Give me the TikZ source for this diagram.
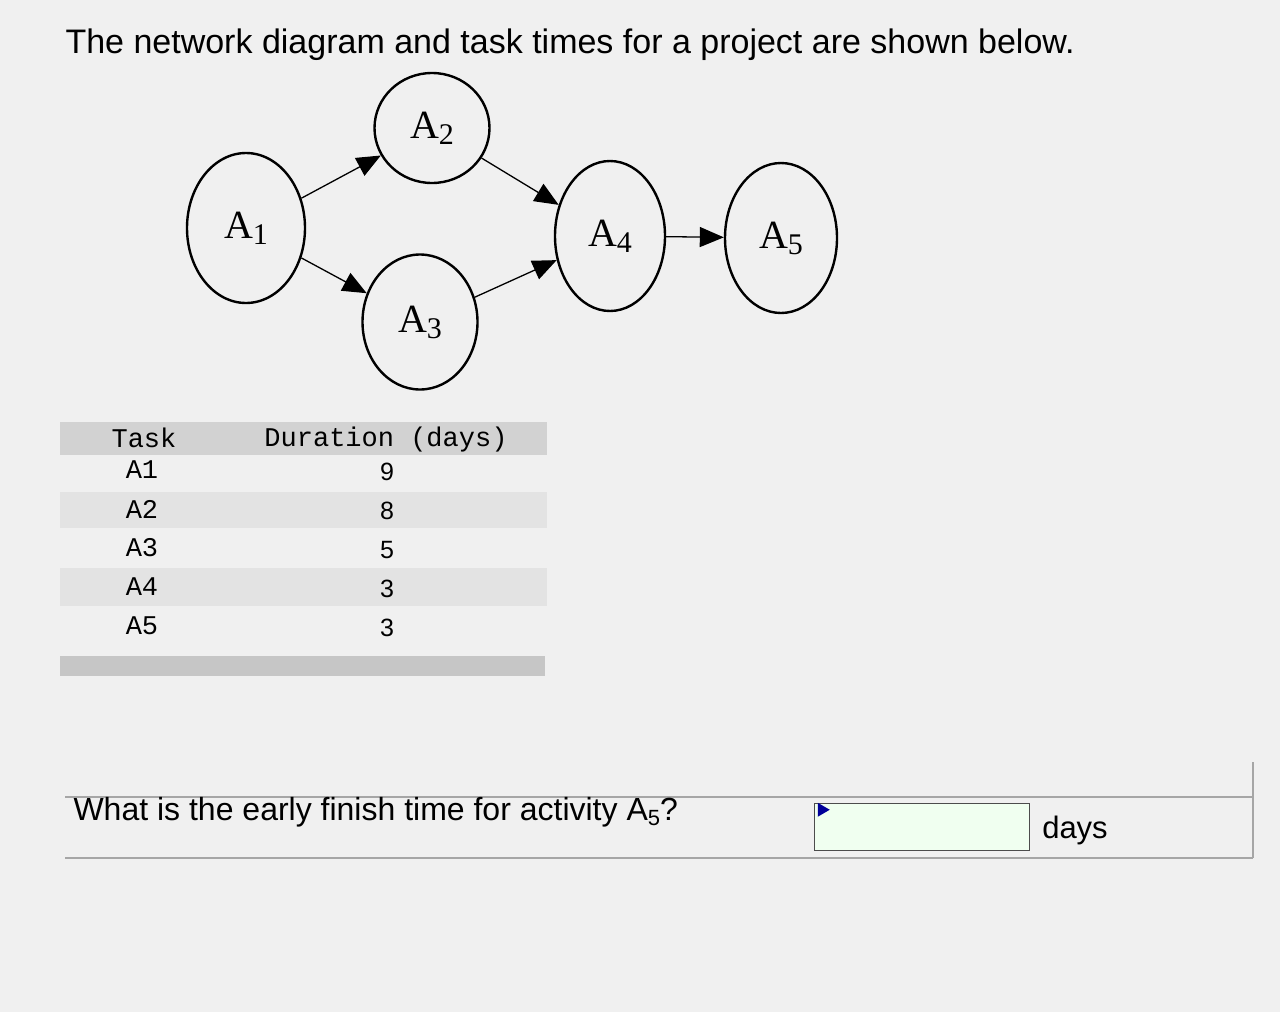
\documentclass[tikz,border=0pt]{standalone}
\usepackage{fontspec}
\setmainfont{Liberation Serif}
\setsansfont{Liberation Sans}
\setmonofont{Liberation Mono}
\usetikzlibrary{shapes.geometric,arrows.meta}
\begin{document}
\begin{tikzpicture}[x=1pt,y=-1pt,
  act/.style={draw,line width=2.4pt,ellipse,minimum width=#1,minimum height=150pt,font=\fontsize{40}{40}\selectfont},
  arr/.style={line width=1.3pt,-{Triangle[length=24pt,width=20pt]}},
  mono/.style={font=\ttfamily\fontsize{27}{27}\selectfont},
  num/.style={font=\sffamily\fontsize{25}{25}\selectfont}]
\fill[gray!12] (0,0) rectangle (1280,1012);
\useasboundingbox (0,0) rectangle (1280,1012);
\node[anchor=west,font=\sffamily\fontsize{34}{34}\selectfont] (title) at (62,45) {The network diagram and task times for a project are shown below.};
\node[act=115pt,minimum height=110pt] (a2) at (432,128) {A\raisebox{-6pt}{\fontsize{30}{30}\selectfont 2}};
\node[act=118pt] (a1) at (246,228) {A\raisebox{-6pt}{\fontsize{30}{30}\selectfont 1}};
\node[act=115pt,minimum height=135pt] (a3) at (420,322) {A\raisebox{-6pt}{\fontsize{30}{30}\selectfont 3}};
\node[act=110pt] (a4) at (610,236) {A\raisebox{-6pt}{\fontsize{30}{30}\selectfont 4}};
\node[act=112pt] (a5) at (781,238) {A\raisebox{-6pt}{\fontsize{30}{30}\selectfont 5}};
\draw[arr] (a1) -- (a2);
\draw[arr] (a1) -- (a3);
\draw[arr] (a2) -- (a4);
\draw[arr] (a3) -- (a4);
\draw[arr] (a4) -- (a5);
% table
\fill[gray!35] (60,422) rectangle (547,455);
\fill[gray!22] (60,492) rectangle (547,528);
\fill[gray!22] (60,568) rectangle (547,606);
\fill[gray!45] (60,656) rectangle (545,676);
\node[mono] (th1) at (144,438) {Task};
\node[mono] (th2) at (386,440) {Duration (days)};
\foreach \i/\d [count=\k from 0] in {1/9,2/8,3/5,4/3,5/3}{
  \node[mono] (t\i) at (142,{470+39*\k}) {A\i};
  \node[num] (d\i) at (387,{472+39*\k}) {\d};
}
% question
\draw[gray!70,line width=1.2pt] (65,797) -- (1253,797);
\draw[gray!70,line width=1.2pt] (65,858) -- (1253,858);
\draw[gray!70,line width=1.2pt] (1253,762) -- (1253,858);
\node[anchor=west,font=\sffamily\fontsize{32}{32}\selectfont] (q) at (70,812) {What is the early finish time for activity A\raisebox{-5pt}{\fontsize{22}{22}\selectfont 5}?};
\node[draw=black!70,line width=1.5pt,fill=green!6,minimum width=215pt,minimum height=47pt,inner sep=0pt] (box) at (922,827) {};
\fill[blue!60!black] (box.north west) ++(4,0) -- ++(12,7) -- ++(-12,7) -- cycle;
\node[font=\sffamily\fontsize{31}{31}\selectfont] (days) at (1075,830) {days};
\end{tikzpicture}
\end{document}
